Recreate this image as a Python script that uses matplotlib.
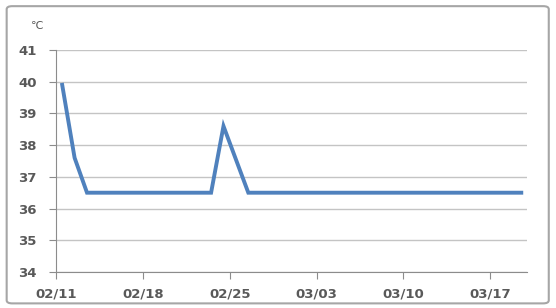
#import packages
import numpy as np
import datetime as dt
from matplotlib import pyplot as plt
from matplotlib.patches import FancyBboxPatch

#data (daily body temperature)
start_date = dt.date(2024, 2, 11)
temps = [39.9, 37.6, 36.5, 36.5, 36.5, 36.5, 36.5, 36.5, 36.5, 36.5,
         36.5, 36.5, 36.5, 38.6, 37.55, 36.5, 36.5, 36.5, 36.5, 36.5,
         36.5, 36.5, 36.5, 36.5, 36.5, 36.5, 36.5, 36.5, 36.5, 36.5,
         36.5, 36.5, 36.5, 36.5, 36.5, 36.5, 36.5, 36.5]
tick_days = [0, 7, 14, 21, 28, 35]
y_ticks = [34, 35, 36, 37, 38, 39, 40, 41]

days = np.arange(len(temps)) + 0.5
tick_labels = [(start_date + dt.timedelta(days=d)).strftime("%m/%d") for d in tick_days]

grey = "#8c8c8c"
text_col = "#595959"

fig = plt.figure(figsize=(5.56, 3.08), dpi=100)
ax = fig.add_axes([0.1007, 0.1169, 0.848, 0.7208])

#outer rounded border
border = FancyBboxPatch((0.012, 0.015), 0.975, 0.965, boxstyle="round,pad=0,rounding_size=0.01",
                        transform=fig.transFigure, fill=False, edgecolor="#a6a6a6", linewidth=1.5)
fig.patches.append(border)

ax.plot(days, temps, color="#4f81bd", linewidth=2.8, solid_joinstyle="miter")

ax.set_xlim(0, 38)
ax.set_ylim(34, 41)
ax.set_xticks(tick_days)
ax.set_xticklabels(tick_labels)
ax.set_yticks(y_ticks)

ax.grid(axis="y", color="#c4c4c4", linewidth=1)
ax.set_axisbelow(True)
for s in ["top", "right"]:
    ax.spines[s].set_visible(False)
for s in ["left", "bottom"]:
    ax.spines[s].set_color(grey)
ax.tick_params(axis="both", direction="out", length=5, color=grey, labelcolor=text_col, labelsize=9.5)
ax.tick_params(axis="y", pad=9)
ax.tick_params(axis="x", pad=6)
for lab in ax.get_xticklabels() + ax.get_yticklabels():
    lab.set_fontweight("bold")

fig.text(0.056, 0.915, "℃", fontsize=8, color=text_col, ha="left", va="center")

plt.savefig("out.png", dpi=100)
